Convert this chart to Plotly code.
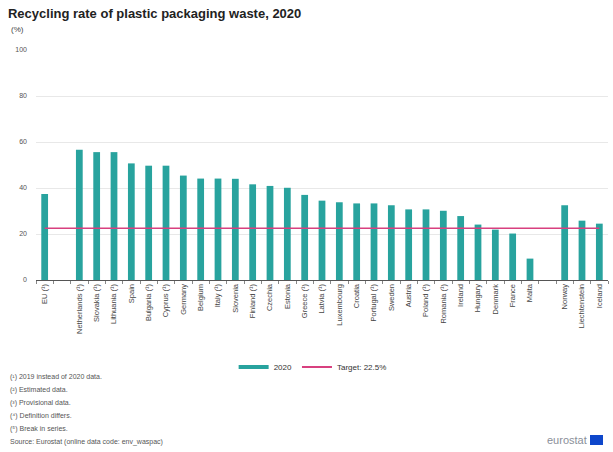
import plotly.graph_objects as go

categories = ["EU (¹)", " ", "Netherlands (¹)", "Slovakia (¹)", "Lithuania (¹)", "Spain",
              "Bulgaria (¹)", "Cyprus (¹)", "Germany", "Belgium", "Italy (¹)", "Slovenia",
              "Finland (¹)", "Czechia", "Estonia", "Greece (¹)", "Latvia (¹)", "Luxembourg",
              "Croatia", "Portugal (¹)", "Sweden", "Austria", "Poland (¹)", "Romania (¹)",
              "Ireland", "Hungary", "Denmark", "France", "Malta", "  ", "Norway",
              "Liechtenstein", "Iceland"]
values_2020 = [37.4, None, 56.6, 55.6, 55.6, 50.7, 49.7, 49.7, 45.4, 44.1, 44.1, 44.0,
               41.6, 40.9, 40.1, 37.0, 34.5, 33.8, 33.3, 33.3, 32.5, 30.7, 30.7, 30.1,
               27.8, 24.1, 21.9, 20.2, 9.3, None, 32.5, 25.8, 24.5]
target_value = 22.5
target_values = [target_value] * len(categories)
y_ticks = [0, 20, 40, 60, 80, 100]

footnotes = ["(¹) 2019 instead of 2020 data.", "(²) Estimated data.", "(³) Provisional data.",
             "(⁴) Definition differs.", "(⁵) Break in series.",
             "Source: Eurostat (online data code: env_waspac)"]

TEAL = "#28A39E"
PINK = "#D8407F"
FONT = "Arial, Liberation Sans, sans-serif"

fig = go.Figure()
fig.add_trace(go.Bar(x=categories, y=values_2020, name="2020", marker_color=TEAL,
                     marker_line_width=0, showlegend=False))
fig.add_trace(go.Scatter(x=categories, y=target_values, mode="lines", name="Target: 22.5%",
                         line=dict(color=PINK, width=1.5), showlegend=False))
# legend-only entries (line symbols)
fig.add_trace(go.Scatter(x=[None], y=[None], mode="lines", name="2020",
                         line=dict(color=TEAL, width=4)))
fig.add_trace(go.Scatter(x=[None], y=[None], mode="lines", name="Target: 22.5%",
                         line=dict(color=PINK, width=2)))

fig.update_layout(
    width=613, height=452,
    margin=dict(l=36, r=5, t=50, b=172),
    paper_bgcolor="white", plot_bgcolor="white",
    font=dict(family=FONT, color="#333333"),
    bargap=0.61,
    showlegend=True,
    legend=dict(orientation="h", x=0.51, xanchor="center", xref="container",
                y=0.188, yanchor="middle", yref="container",
                font=dict(size=8, color="#333333"), itemwidth=30,
                entrywidth=0, tracegroupgap=0),
    title=dict(text="<b>Recycling rate of plastic packaging waste, 2020</b>",
               x=0.013, xanchor="left", y=0.97, yanchor="middle",
               font=dict(size=13, color="#222222")),
)
fig.update_xaxes(type="category", categoryorder="array", categoryarray=categories,
                 tickangle=-90, tickfont=dict(size=7.5, color="#444444"),
                 showline=True, linecolor="#555555", linewidth=1,
                 ticks="outside", tickson="boundaries", ticklen=3, tickcolor="#888888",
                 showgrid=False, range=[-0.5, len(categories) - 0.5])
fig.update_yaxes(range=[0, 100], tickvals=y_ticks, tickfont=dict(size=7, color="#555555"),
                 showgrid=True, gridcolor="#e8e8e8", gridwidth=1, zeroline=False,
                 ticklabelstandoff=8)

fig.add_annotation(text="(%)", xref="paper", yref="paper", x=-0.048, y=1.09,
                   xanchor="left", yanchor="middle", showarrow=False,
                   font=dict(size=8, color="#444444"))

y0 = 377
for i, t in enumerate(footnotes):
    fig.add_annotation(text=t, xref="paper", yref="paper",
                       x=(8 - 36) / 572, y=(280 - (y0 + i * 12.9)) / 230,
                       xanchor="left", yanchor="middle", showarrow=False,
                       font=dict(size=7, color="#555555"))

# eurostat logo
fig.add_annotation(text="eurostat", xref="paper", yref="paper",
                   x=(589 - 36) / 572, y=(280 - 440) / 230, xanchor="right", yanchor="middle",
                   showarrow=False, font=dict(size=11, color="#8a8f99", family=FONT))
fig.add_shape(type="rect", xref="paper", yref="paper",
              x0=(590 - 36) / 572, x1=(603 - 36) / 572,
              y0=(280 - 445) / 230, y1=(280 - 435) / 230,
              fillcolor="#0E47CB", line_width=0)

fig.write_html("out.html", config={"displayModeBar": False},
               post_script="document.body.style.margin='0px';document.body.style.overflow='hidden';")
